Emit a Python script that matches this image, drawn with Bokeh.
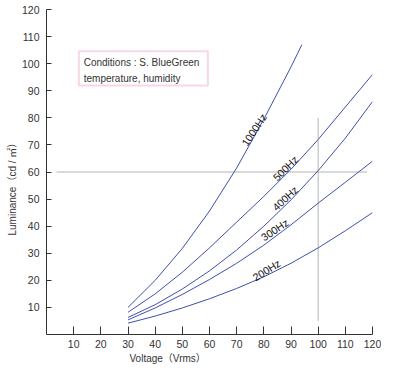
import math
from bokeh.plotting import figure
from bokeh.models import Range1d, FixedTicker, Label, BoxAnnotation, ColumnDataSource, Title
from bokeh.core.properties import value
from bokeh.embed import file_html
from bokeh.resources import INLINE

# ---- data ----
volts = [30, 40, 50, 60, 70, 80, 90, 100, 110, 120]
volts_1000 = [30, 40, 50, 60, 70, 80, 90, 94]
lum_1000 = [10, 20, 31.8, 45.6, 61.5, 79.5, 98.8, 107]
lum_500 = [8.2, 15, 23, 32, 41.5, 51, 61, 72, 84, 96]
lum_400 = [6.3, 11, 16.8, 23.5, 31.2, 40, 49.7, 60.5, 72.5, 86]
lum_300 = [5.4, 9.8, 14.8, 20.3, 26.3, 33, 40.5, 48.5, 56.2, 64]
lum_200 = [4.2, 6.8, 9.8, 13.2, 17, 21.3, 26.3, 32, 38.3, 45]
curve_names = ["1000Hz", "500Hz", "400Hz", "300Hz", "200Hz"]
tick_values = [10, 20, 30, 40, 50, 60, 70, 80, 90, 100, 110, 120]
ref_voltage = 100
ref_luminance = 60
box_lines = ["Conditions : S. BlueGreen", "temperature,  humidity"]
x_title = "Voltage（Vrms）"
y_title = "Luminance（cd / ㎡）"

# label placement for curve names (data coords, degrees)
name_x = [76.4, 87.9, 87.8, 84.0, 81.0]
name_y = [75.6, 61.4, 50.3, 38.7, 23.8]
name_deg = [56, 45, 43, 34, 32]

FONT = "Liberation Sans, Noto Sans CJK JP"
LINE_COLOR = "#3f4fae"

p = figure(width=381, height=364, output_backend="svg", toolbar_location=None,
           x_range=Range1d(0, 120), y_range=Range1d(0, 120),
           min_border_left=46, min_border_right=9, min_border_top=9, min_border_bottom=30)
p.outline_line_color = None
p.xgrid.visible = False
p.ygrid.visible = False
p.background_fill_color = "white"
p.border_fill_color = "white"

for ax, tin in ((p.xaxis[0], 8), (p.yaxis[0], 5)):
    ax.ticker = FixedTicker(ticks=tick_values)
    ax.major_tick_in = tin
    ax.major_tick_out = 0
    ax.minor_tick_line_color = None
    ax.axis_line_color = "#333333"
    ax.major_tick_line_color = "#333333"
    ax.major_label_text_font = FONT
    ax.major_label_text_font_size = "10.5px"
    ax.major_label_text_color = "#333333"
p.xaxis.major_label_standoff = 5
p.yaxis.major_label_standoff = 7

# reference lines
p.segment(x0=[3.7], y0=[ref_luminance], x1=[118], y1=[ref_luminance], line_color="#b4b4b4", line_width=1)
p.segment(x0=[ref_voltage], y0=[5], x1=[ref_voltage], y1=[80], line_color="#b4b4b4", line_width=1)

# curves
p.line(volts_1000, lum_1000, line_color=LINE_COLOR, line_width=1)
for ys in (lum_500, lum_400, lum_300, lum_200):
    p.line(volts, ys, line_color=LINE_COLOR, line_width=1)

src = ColumnDataSource(dict(x=name_x, y=name_y, t=curve_names,
                            a=[math.radians(d) for d in name_deg]))
p.text(x="x", y="y", text="t", angle="a", source=src, text_align="center",
       text_baseline="middle", text_font=value(FONT), text_font_size="10.5px",
       text_color="#111111")

# conditions box
p.add_layout(BoxAnnotation(left=11.9, right=59.4, top=104.6, bottom=91.9,
                           fill_alpha=0, line_color="#e279b2", line_width=2))
p.add_layout(Label(x=13.7, y=102.3, text="\n".join(box_lines), text_font=FONT,
                   text_font_size="10px", text_color="#333333",
                   text_align="left", text_baseline="top", text_line_height=1.45))

# axis titles
p.add_layout(Title(text=x_title, align="left", offset=83, standoff=0,
                   text_font=FONT, text_font_size="10px", text_color="#333333",
                   text_font_style="normal"), "below")
p.add_layout(Title(text=y_title, align="left", offset=99, standoff=2,
                   text_font=FONT, text_font_size="10px", text_color="#333333",
                   text_font_style="normal"), "left")

open("out.html", "w").write(file_html(p, INLINE))
